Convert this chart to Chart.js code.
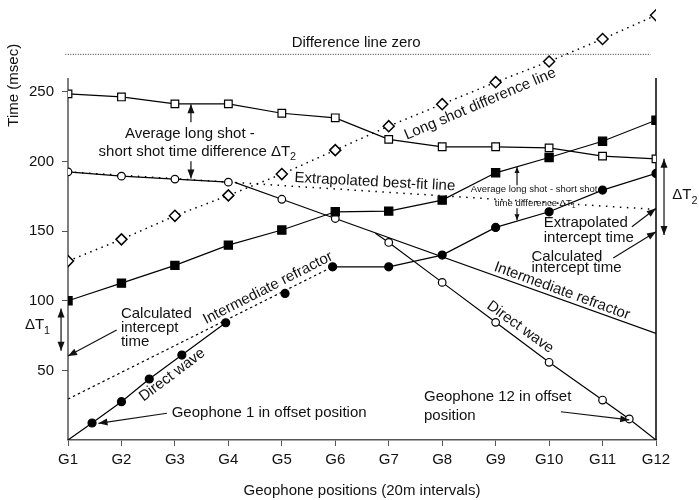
<!DOCTYPE html>
<html lang="en">
<head>
<meta charset="UTF-8">
<title>Geophone travel times</title>
<script src="https://cdn.jsdelivr.net/npm/chart.js"></script>
<style>
  html, body { margin: 0; padding: 0; background: #fff; }
</style>
</head>
<body>
<canvas id="grafico" width="699" height="500"></canvas>
<script>
// geophone positions on the x axis
const geophones = ['G1','G2','G3','G4','G5','G6','G7','G8','G9','G10','G11','G12'];
const geoPos = [1,2,3,4,5,6,7,8,9,10,11,12];
const yTicks = [50,100,150,200,250];
const axisTop = 260; // the drawn axes stop here, the diamonds go above

// long shot (open squares)
const longShotTimes = [248.6,246.4,241.4,241.4,234.7,231.4,215.9,210.6,210.6,209.8,203.9,201.9];
// long shot difference (diamonds)
const diffTimes = [128.5,144.1,161.0,175.7,191.0,208.2,225.4,241.2,257.0,271.9,288.0,305.1];
// forward shot, deeper refractor (filled squares)
const fwdDeepTimes = [100,112.7,125.4,140,150.8,163.9,164.4,172.3,191.9,202.9,214.6,229.7];

// reverse short shot, deeper refractor (open circles G1-G4)
const revDeepPos = [1,2,3,4];
const revDeepTimes = [192.6,189.5,187.4,185.2];
// reverse short shot, intermediate refractor
const revMidPos = [4.12,5,6,12];
const revMidTimes = [185,172.9,159.1,76.6];
// reverse short shot, direct wave
const revDirectPos = [6.75,7,8,9,10,11,11.5,12];
const revDirectTimes = [148.5,141.9,113.2,84.5,55.8,28.7,15.1,0];

// forward short shot, direct wave (filled circles)
const fwdDirectPos = [1,1.45,2,2.52,3.13,3.95];
const fwdDirectTimes = [0,12.2,27.5,43.8,61,84.2];
// forward short shot, intermediate refractor point
const fwdMidPos = [5.06];
const fwdMidTimes = [105.3];
// forward short shot, deeper refractor
const fwdLatePos = [5.95,7,8,9,10,11,12];
const fwdLateTimes = [124.4,124.4,132.8,152.7,163.9,179.5,191.5];

// extrapolated lines
const midExtrapPos = [1,5.85];
const midExtrapTimes = [29.4,122.5];
const bestFitPos = [1,12];
const bestFitTimes = [192.6,165.6];
const zeroLinePos = [0.95,11.9];
const zeroLineTimes = [277,277];

const FONT = "'Liberation Sans', Arial, sans-serif";
Chart.defaults.font.family = FONT;
Chart.defaults.color = '#111';

const pts = (xs, ys) => xs.map((x, i) => ({x: x, y: ys[i]}));

// labels and arrows, in data units
const notes = [
  {t:'Difference line zero', x:6.39, y:285},
  {t:'Long shot difference line', x:8.71, y:241.2, a:-23},
  {t:'Average long shot -', x:3.28, y:220.2},
  {t:'short shot time difference \u0394T', sub:'2', x:3.42, y:207},
  {t:'Extrapolated best-fit line', x:6.74, y:185.2, a:3},
  {t:'Average long shot - short shot', x:9.72, y:180, size:9.5},
  {t:'time difference \u0394T', sub:'1', x:9.74, y:170.3, size:9.5},
  {t:'\u0394T', sub:'2', x:12.54, y:175.9},
  {t:'Extrapolated', x:9.9, y:155.8, align:'left'},
  {t:'intercept time', x:9.9, y:145, align:'left'},
  {t:'Calculated', x:9.67, y:131.6, align:'left'},
  {t:'intercept time', x:9.67, y:123.3, align:'left'},
  {t:'Intermediate refractor', x:10.24, y:107, a:20},
  {t:'Direct wave', x:9.46, y:81.1, a:36},
  {t:'Geophone 12 in offset', x:7.66, y:30.7, align:'left'},
  {t:'position', x:7.66, y:17.4, align:'left'},
  {t:'Calculated', x:1.99, y:90.5, align:'left'},
  {t:'intercept', x:1.99, y:80.2, align:'left'},
  {t:'time', x:1.99, y:70.6, align:'left'},
  {t:'\u0394T', sub:'1', x:0.43, y:82.6},
  {t:'Intermediate refractor', x:4.74, y:109.1, a:-27},
  {t:'Direct wave', x:2.95, y:46.7, a:-37},
  {t:'Geophone 1 in offset position', x:2.94, y:19.2, align:'left'}
];
const arrows = [
  {from:[3.30,228.3], to:[3.30,241.2]},
  {from:[3.30,200.3], to:[3.30,187.9]},
  {from:[9.40,183], to:[9.40,196], small:true},
  {from:[9.40,166.5], to:[9.40,157.9], small:true},
  {from:[12.15,202], to:[12.15,147.2], both:true},
  {from:[11.55,153.1], to:[11.995,166.3]},
  {from:[11.20,130.7], to:[12.0,149.5]},
  {from:[10.22,20.3], to:[11.50,14.4]},
  {from:[1.91,79], to:[1.0,60.3]},
  {from:[0.87,94.5], to:[0.87,64.1], both:true},
  {from:[2.85,19.2], to:[1.57,12]}
];

function head(ctx, x, y, ang, L, W) {
  const c = Math.cos(ang), s = Math.sin(ang);
  ctx.beginPath();
  ctx.moveTo(x, y);
  ctx.lineTo(x - L*c + W*s, y - L*s - W*c);
  ctx.lineTo(x - L*c - W*s, y - L*s + W*c);
  ctx.closePath();
  ctx.fill();
}

// side axes only reach up to 260, drawn before the data
const sideAxes = {
  id: 'sideAxes',
  beforeDatasetsDraw(chart) {
    const ctx = chart.ctx, a = chart.chartArea, ys = chart.scales.y;
    const y0 = ys.getPixelForValue(0), y1 = ys.getPixelForValue(axisTop);
    ctx.save();
    ctx.lineWidth = 1.5;
    ctx.strokeStyle = '#555';
    ctx.beginPath(); ctx.moveTo(a.left, y0); ctx.lineTo(a.left, y1); ctx.stroke();
    ctx.strokeStyle = '#000';
    ctx.beginPath(); ctx.moveTo(a.right, y0); ctx.lineTo(a.right, y1); ctx.stroke();
    ctx.restore();
  }
};

const annotations = {
  id: 'annotations',
  afterDatasetsDraw(chart) {
    const ctx = chart.ctx, xs = chart.scales.x, ys = chart.scales.y;
    ctx.save();
    ctx.fillStyle = '#111';
    ctx.strokeStyle = '#111';
    ctx.lineWidth = 1.2;
    ctx.textBaseline = 'middle';
    notes.forEach(n => {
      const size = n.size || 15;
      ctx.save();
      ctx.translate(xs.getPixelForValue(n.x), ys.getPixelForValue(n.y));
      ctx.rotate((n.a || 0) * Math.PI / 180);
      ctx.font = size + 'px ' + FONT;
      const w = ctx.measureText(n.t).width;
      let ws = 0;
      const subFont = (size * 0.72) + 'px ' + FONT;
      if (n.sub) { ctx.font = subFont; ws = ctx.measureText(n.sub).width; ctx.font = size + 'px ' + FONT; }
      const x0 = n.align === 'left' ? 0 : -(w + ws) / 2;
      ctx.textAlign = 'left';
      ctx.fillText(n.t, x0, 0);
      if (n.sub) { ctx.font = subFont; ctx.fillText(n.sub, x0 + w, size * 0.38); }
      ctx.restore();
    });
    arrows.forEach(a => {
      const x1 = xs.getPixelForValue(a.from[0]), y1 = ys.getPixelForValue(a.from[1]);
      const x2 = xs.getPixelForValue(a.to[0]), y2 = ys.getPixelForValue(a.to[1]);
      const ang = Math.atan2(y2 - y1, x2 - x1);
      const L = a.small ? 6 : 9, W = a.small ? 2.5 : 3.5;
      ctx.beginPath(); ctx.moveTo(x1, y1); ctx.lineTo(x2, y2); ctx.stroke();
      head(ctx, x2, y2, ang, L, W);
      if (a.both) head(ctx, x1, y1, ang + Math.PI, L, W);
    });
    // y axis title
    ctx.save();
    ctx.translate(14, ys.getPixelForValue(254.8));
    ctx.rotate(-Math.PI / 2);
    ctx.font = '15px ' + FONT;
    ctx.textAlign = 'center';
    ctx.fillText('Time (msec)', 0, 0);
    ctx.restore();
    ctx.restore();
  }
};

const solid = {showLine: true, borderColor: '#000', borderWidth: 1.2, tension: 0,
  pointBorderColor: '#000', pointBorderWidth: 1.2};

const datasets = [
  Object.assign({}, solid, {data: pts(geoPos, longShotTimes), pointStyle: 'rect', pointRadius: 5.4, pointBackgroundColor: '#fff'}),
  Object.assign({}, solid, {data: pts(geoPos, fwdDeepTimes), pointStyle: 'rect', pointRadius: 5.8, pointBackgroundColor: '#000'}),
  Object.assign({}, solid, {data: pts(revDeepPos, revDeepTimes), pointStyle: 'circle', pointRadius: 3.8, pointBackgroundColor: '#fff'}),
  Object.assign({}, solid, {data: pts(revMidPos, revMidTimes), pointStyle: 'circle', pointRadius: [0,3.8,3.8,0], pointBackgroundColor: '#fff'}),
  Object.assign({}, solid, {data: pts(revDirectPos, revDirectTimes), pointStyle: 'circle', pointRadius: [0,3.8,3.8,3.8,3.8,3.8,3.8,0], pointBackgroundColor: '#fff'}),
  Object.assign({}, solid, {data: pts(fwdDirectPos, fwdDirectTimes), pointStyle: 'circle', pointRadius: [0,4,4,4,4,4], pointBackgroundColor: '#000'}),
  Object.assign({}, solid, {data: pts(fwdMidPos, fwdMidTimes), showLine: false, pointStyle: 'circle', pointRadius: 4, pointBackgroundColor: '#000'}),
  Object.assign({}, solid, {data: pts(fwdLatePos, fwdLateTimes), pointStyle: 'circle', pointRadius: 4, pointBackgroundColor: '#000'}),
  Object.assign({}, solid, {data: pts(geoPos, diffTimes), borderDash: [1.5, 4.5], borderWidth: 1.5, pointStyle: 'rectRot', pointRadius: 5.5, pointBorderWidth: 1.5, pointBackgroundColor: '#fff'}),
  Object.assign({}, solid, {data: pts(midExtrapPos, midExtrapTimes), borderDash: [2.5, 3], pointRadius: 0}),
  Object.assign({}, solid, {data: pts(bestFitPos, bestFitTimes), borderDash: [1.5, 5.5], borderWidth: 1.5, pointRadius: 0}),
  Object.assign({}, solid, {data: pts(zeroLinePos, zeroLineTimes), borderDash: [1, 1.5], borderWidth: 1, borderColor: '#333', pointRadius: 0, clip: false})
];

new Chart(document.getElementById('grafico'), {
  type: 'scatter',
  data: {datasets: datasets},
  options: {
    responsive: false,
    animation: false,
    devicePixelRatio: 1,
    layout: {padding: {top: 1.4, left: 0, right: 43, bottom: 0}},
    plugins: {legend: {display: false}, tooltip: {enabled: false}},
    scales: {
      x: {
        type: 'linear', position: 'bottom', min: 1, max: 12,
        afterFit: s => { s.height = 60; s.paddingLeft = 0; s.paddingRight = 0; },
        afterBuildTicks: s => { s.ticks = geoPos.map(v => ({value: v})); },
        ticks: {callback: v => geophones[geoPos.indexOf(v)], font: {size: 15}, padding: 5, autoSkip: false, maxRotation: 0},
        grid: {drawOnChartArea: false, drawTicks: true, tickLength: 6, color: '#555'},
        border: {color: '#555', width: 1.5},
        title: {display: true, text: 'Geophone positions (20m intervals)', font: {size: 15}, padding: 0}
      },
      y: {
        type: 'linear', position: 'left', min: 0, max: 311,
        afterFit: s => { s.width = 68; s.paddingTop = 0; s.paddingBottom = 0; },
        afterBuildTicks: s => { s.ticks = yTicks.map(v => ({value: v})); },
        ticks: {font: {size: 15}, padding: 8},
        grid: {drawOnChartArea: false, drawTicks: true, tickLength: 6, color: '#555'},
        border: {display: false}
      }
    }
  },
  plugins: [sideAxes, annotations]
});
</script>
</body>
</html>
